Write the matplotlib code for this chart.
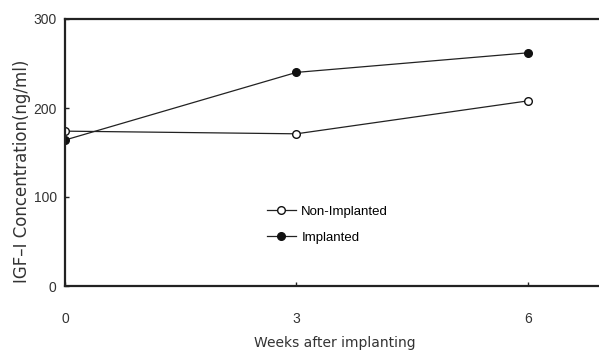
import matplotlib
matplotlib.use("Agg")
import matplotlib.pyplot as plt

weeks = [0, 3, 6]
non_implanted = [174, 171, 208]
implanted = [164, 240, 262]
y_ticks = [0, 100, 200, 300]
x_ticks = [0, 3, 6]

plt.rcParams['font.family'] = ['Liberation Sans', 'DejaVu Sans']

fig = plt.figure(figsize=(5.99, 3.52), dpi=100)
W, H = 599, 352
ax = fig.add_axes([65 / W, (H - 286) / H, (605 - 65) / W, (286 - 19) / H])

ax.plot(weeks, non_implanted, color='#222222', lw=0.9, marker='o', ms=5.5,
        mfc='white', mec='#111111', mew=1.0, label='Non-Implanted')
ax.plot(weeks, implanted, color='#222222', lw=0.9, marker='o', ms=5.5,
        mfc='#111111', mec='#111111', mew=1.0, label='Implanted')

ax.set_xlim(0, 7)
ax.set_ylim(0, 300)
ax.set_xticks(x_ticks)
ax.set_yticks(y_ticks)
for s in ax.spines.values():
    s.set_linewidth(1.6)
    s.set_color('#222222')
ax.tick_params(axis='both', direction='in', length=3, width=1, colors='#222222',
               labelcolor='#333333', labelsize=10)
ax.tick_params(axis='x', pad=19)
ax.tick_params(axis='y', pad=6)

ax.set_xlabel('Weeks after implanting', fontsize=10, color='#333333',
              labelpad=7, family='DejaVu Sans')
fig.text(22 / W, 1 - 171 / H, 'IGF–I Concentration(ng/ml)', rotation=90,
         ha='center', va='center', fontsize=12, color='#333333',
         family='DejaVu Sans')

ax.legend(loc='center left', bbox_to_anchor=(0.374, 0.23), frameon=False,
          fontsize=9.5, handlelength=2.2, handletextpad=0.4, labelspacing=1.05,
          borderpad=0, borderaxespad=0)

fig.savefig('out.png', dpi=100)
